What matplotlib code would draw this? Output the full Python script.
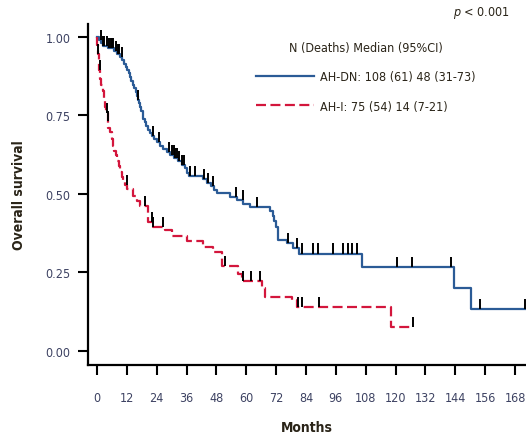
import numpy as np
import matplotlib
matplotlib.use("Agg")
import matplotlib.pyplot as plt
from matplotlib import font_manager

# a narrow face if one is installed, otherwise plain DejaVu Sans
names = {f.name for f in font_manager.fontManager.ttflist}
narrow = [n for n in ['Liberation Sans Narrow', 'DejaVu Sans Condensed'] if n in names]
plt.rcParams['font.family'] = narrow + ['DejaVu Sans']
plt.rcParams['font.stretch'] = 'condensed'

# Kaplan-Meier steps (months, survival)
dn_time = [0, 0.8, 1.6, 2.4, 4.5, 7.0, 8.0, 9.2, 10.2, 11.0, 11.6, 12.2, 12.8, 13.3,
           13.8, 14.4, 15.0, 15.5, 16.0, 16.5, 17.0, 17.4, 17.8, 18.3, 18.7, 19.2,
           19.8, 20.5, 21.2, 22.0, 23.0, 24.0, 25.2, 26.5, 28.0, 29.5, 31.0, 32.5,
           34.0, 35.2, 36.2, 37.0, 42.5, 44.3, 46.0, 47.2, 48.3, 53.5, 56.3, 58.6,
           61.3, 69.5, 70.7, 71.3, 71.9, 72.8, 76.3, 78.7, 81.3, 106.5, 143.5,
           150.3, 175]
dn_surv = [1.000, 0.991, 0.981, 0.972, 0.963, 0.954, 0.944, 0.935, 0.925, 0.915,
           0.905, 0.895, 0.885, 0.872, 0.860, 0.848, 0.836, 0.825, 0.812, 0.800,
           0.788, 0.776, 0.764, 0.752, 0.740, 0.728, 0.716, 0.705, 0.694, 0.684,
           0.674, 0.664, 0.654, 0.644, 0.634, 0.624, 0.614, 0.604, 0.593, 0.581,
           0.568, 0.556, 0.546, 0.536, 0.524, 0.513, 0.502, 0.491, 0.480, 0.468,
           0.457, 0.445, 0.431, 0.414, 0.395, 0.352, 0.343, 0.329, 0.310, 0.268,
           0.200, 0.132, 0.132]
dn_cens = [1.5, 2.5, 3.0, 4.0, 4.8, 5.5, 6.0, 6.5, 7.5, 8.5, 9.0, 10.0, 16.5, 22.5,
           25.0, 29.0, 30.0, 30.8, 31.5, 32.2, 33.0, 34.0, 35.0, 37.5, 39.5, 43.0,
           44.5, 46.6, 56.0, 58.5, 64.5, 76.7, 80.3, 82.3, 86.7, 88.8, 94.8, 98.8,
           100.8, 102.4, 104.4, 120.5, 126.5, 142.2, 153.8, 171.9]

ai_time = [0, 0.1, 0.4, 0.7, 1.0, 1.4, 1.8, 2.3, 2.8, 3.3, 3.8, 4.3, 4.6, 5.2, 6.0,
           6.5, 7.0, 7.6, 8.2, 8.8, 9.3, 10.0, 10.6, 11.3, 12.2, 14.5, 16.1, 17.3,
           20.4, 22.5, 27.3, 30.1, 36.1, 42.6, 46.6, 50.2, 56.6, 58.2, 66.5, 67.6,
           78.5, 80.4, 118.3, 127.0]
ai_surv = [1.000, 0.973, 0.946, 0.920, 0.893, 0.866, 0.847, 0.827, 0.800, 0.778,
           0.756, 0.733, 0.711, 0.697, 0.675, 0.653, 0.638, 0.623, 0.605, 0.588,
           0.570, 0.555, 0.540, 0.527, 0.514, 0.494, 0.476, 0.462, 0.411, 0.395,
           0.385, 0.366, 0.350, 0.331, 0.315, 0.271, 0.245, 0.223, 0.200, 0.172,
           0.163, 0.140, 0.076, 0.076]
ai_cens = [0.4, 1.2, 4.0, 4.4, 12.0, 19.3, 22.0, 22.7, 26.5, 51.4, 58.6, 62.0, 65.5,
           80.7, 82.3, 89.2, 127.0]

x_ticks = list(range(0, 169, 12))
y_ticks = [0.0, 0.25, 0.5, 0.75, 1.0]

labels = ["AH-DN: 108 (61) 48 (31-73)", "AH-I: 75 (54) 14 (7-21)"]
legend_title = "N (Deaths) Median (95%CI)"

blue = '#2b5b96'
red = '#d3163c'
tick_col = '#3d4262'
text_col = '#2a2418'

fs = 10 if narrow else 9


def surv_at(times, surv, t):
    i = np.searchsorted(times, t, side='right') - 1
    return np.asarray(surv)[i]


fig = plt.figure(figsize=(5.26, 4.39), dpi=100)
ax = fig.add_axes([88 / 526, 1 - 366 / 439, 1 - 88 / 526, (366 - 25) / 439])

l1, = ax.step(dn_time, dn_surv, where='post', color=blue, lw=1.6)
l2, = ax.step(ai_time, ai_surv, where='post', color=red, lw=1.6,
              linestyle=(0, (4.5, 2)))

for times, surv, cens in [(dn_time, dn_surv, dn_cens), (ai_time, ai_surv, ai_cens)]:
    s = surv_at(times, surv, cens)
    ax.vlines(cens, s, s + 0.032, color='black', lw=1.4, zorder=3)

ax.set_xlim(-3.6, 172.4)
ax.set_ylim(-0.045, 1.041)
ax.set_xticks(x_ticks)
ax.set_yticks(y_ticks)
ax.set_yticklabels([f"{v:.2f}" for v in y_ticks])

for side in ['top', 'right']:
    ax.spines[side].set_visible(False)
for side in ['left', 'bottom']:
    ax.spines[side].set_linewidth(1.6)

ax.tick_params(axis='both', direction='out', length=7.5, width=1.5,
               labelsize=fs, labelcolor=tick_col)
ax.tick_params(axis='x', pad=11)
ax.tick_params(axis='y', pad=5)

ax.set_xlabel("Months", fontsize=fs + 1, fontweight='bold', labelpad=12,
              color=text_col)
ax.set_ylabel("Overall survival", fontsize=fs + 1, fontweight='bold', labelpad=14,
              color=text_col)

leg = ax.legend([l1, l2], labels, title=legend_title, loc='upper left',
                bbox_to_anchor=(256 / 526, 1 - 42 / 439), bbox_transform=fig.transFigure,
                frameon=False, fontsize=fs, title_fontsize=fs, handlelength=4.6,
                handletextpad=0.5, labelspacing=1.3, borderpad=0, borderaxespad=0)
for t in leg.get_texts():
    t.set_color(text_col)
leg.get_title().set_color(text_col)

fig.text(510 / 526, 1 - 13 / 439, "$p$ < 0.001", ha='right', va='center',
         fontsize=fs, color=text_col)

fig.savefig("out.png", dpi=100)
